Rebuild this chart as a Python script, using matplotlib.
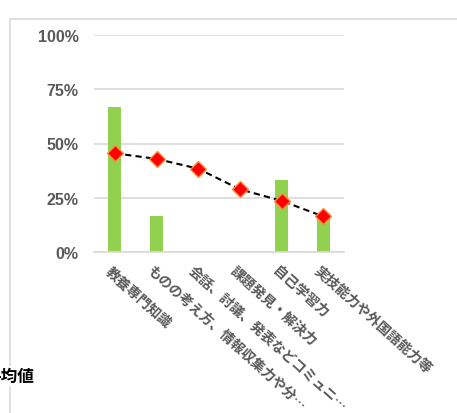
import matplotlib

matplotlib.use("Agg")
import matplotlib.pyplot as plt
from matplotlib.patches import Rectangle
from matplotlib.ticker import PercentFormatter

categories = [
    "教養専門知識",
    "ものの考え方、情報収集力や分…",
    "会話、討議、発表などコミュニ…",
    "課題発見・解決力",
    "自己学習力",
    "実技能力や外国語能力等",
]
bar_values = [66.7, 16.7, 0.0, 0.0, 33.3, 16.7]
avg_values = [45.5, 42.9, 38.4, 28.9, 23.6, 16.4]
y_ticks = [0, 25, 50, 75, 100]

W, H = 457, 414
fig = plt.figure(figsize=(W / 100, H / 100), dpi=100)

# chart-area frame (cropped on the right and bottom)
frame = Rectangle((10 / W, -0.1), 1.2, 1.1 - 20 / H, transform=fig.transFigure,
                  fill=False, edgecolor="#d9d9d9", linewidth=1.2)
fig.add_artist(frame)

ax = fig.add_axes([94 / W, 1 - 253 / H, 250 / W, 217 / H])
x = list(range(len(categories)))
ax.bar(x, bar_values, width=0.31, color="#92d050", zorder=2)
ax.plot(x, avg_values, color="black", linestyle=(0, (3, 2)), linewidth=1.5,
        marker="D", markersize=8, markerfacecolor="#ff0000",
        markeredgecolor="#ff8c3a", markeredgewidth=1.0, zorder=3)

ax.set_xlim(-0.5, len(categories) - 0.5)
ax.set_ylim(0, 100)
ax.set_yticks(y_ticks)
ax.yaxis.set_major_formatter(PercentFormatter(decimals=0))
ax.grid(True, axis="y", color="#d9d9d9", linewidth=1.2, zorder=0)
for side in ["top", "right", "left"]:
    ax.spines[side].set_visible(False)
ax.spines["bottom"].set_color("#d9d9d9")
ax.spines["bottom"].set_linewidth(1.2)
ax.tick_params(length=0)
ax.tick_params(axis="y", pad=11, labelsize=11.5, labelcolor="#595959")
for lab in ax.get_yticklabels():
    lab.set_fontfamily(["Liberation Sans", "DejaVu Sans"])
    lab.set_fontweight("bold")

ax.set_xticks(x)
ax.set_xticklabels([])
for i, name in enumerate(categories):
    ax.annotate(name, xy=(i, 0), xycoords="data", xytext=(-2, -8),
                textcoords="offset points", rotation=-42,
                rotation_mode="anchor", ha="left", va="top",
                fontsize=10, fontweight="bold", color="#595959",
                family=["Noto Sans CJK JP", "DejaVu Sans"])

# legend entry, cropped at the left edge as in the source image
fig.text(34 / W, 1 - 377 / H, "平均値", ha="right", va="center",
         fontsize=12, fontweight="bold", color="black",
         family=["Noto Sans CJK JP", "DejaVu Sans"],
         bbox=dict(facecolor="white", edgecolor="none", pad=1))

fig.savefig("out.png", dpi=100)
